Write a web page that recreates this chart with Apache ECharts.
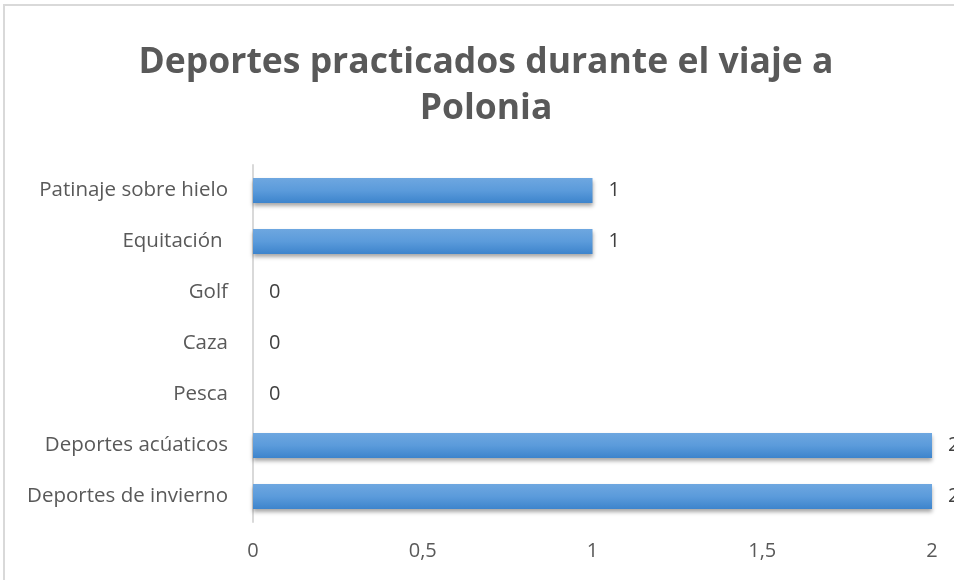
<!DOCTYPE html>
<html>
<head>
<meta charset="utf-8">
<script src="https://cdn.jsdelivr.net/npm/echarts@6/dist/echarts.min.js"></script>
<style>
  html, body { margin: 0; padding: 0; background: #fff; }
  #frame { position: absolute; left: 3px; top: 4px; width: 1000px; height: 620px; border: 2px solid #d9d9d9; box-sizing: border-box; }
  #main { position: absolute; left: 0; top: 0; width: 954px; height: 580px; }
</style>
</head>
<body>
<div id="frame"></div>
<div id="main"></div>
<script>
const categories = ['Deportes de invierno', 'Deportes acúaticos', 'Pesca', 'Caza', 'Golf', 'Equitación ', 'Patinaje sobre hielo']
const values = [2, 2, 0, 0, 0, 1, 1]
const tickLabels = ['0', '0,5', '1', '1,5', '2']

const chart = echarts.init(document.getElementById('main'))

const option = {
  animation: false,
  title: {
    text: 'Deportes practicados durante el viaje a\nPolonia',
    left: 481,
    textAlign: 'center',
    top: 35,
    textStyle: {
      fontFamily: 'Open Sans',
      fontSize: 35.5,
      fontWeight: 'bold',
      color: '#595959',
      lineHeight: 46
    }
  },
  grid: {
    left: 253,
    right: 22,
    top: 165,
    bottom: 58
  },
  xAxis: {
    type: 'value',
    min: 0,
    max: 2,
    interval: 0.5,
    splitLine: { show: false },
    axisLine: { show: false },
    axisTick: { show: false },
    axisLabel: {
      margin: 19,
      fontFamily: 'Open Sans',
      fontSize: 20,
      color: '#595959',
      formatter: function (v) { return tickLabels[Math.round(v * 2)] }
    }
  },
  yAxis: {
    type: 'category',
    data: categories,
    axisLine: { show: true, lineStyle: { color: '#d9d9d9', width: 2 } },
    axisTick: { show: false },
    axisLabel: {
      margin: 25,
      fontFamily: 'Open Sans',
      fontSize: 20.5,
      color: '#595959'
    }
  },
  series: [
    {
      type: 'bar',
      data: values,
      barWidth: 25,
      itemStyle: {
        color: new echarts.graphic.LinearGradient(0, 0, 0, 1, [
          { offset: 0, color: '#6ea7e0' },
          { offset: 0.5, color: '#5b9bdb' },
          { offset: 1, color: '#3d84cc' }
        ]),
        shadowColor: 'rgba(0, 0, 0, 0.35)',
        shadowBlur: 4,
        shadowOffsetY: 3
      },
      label: {
        show: true,
        position: 'right',
        distance: 16,
        fontFamily: 'Open Sans',
        fontSize: 20,
        color: '#404040'
      }
    }
  ]
}

chart.setOption(option)
</script>
</body>
</html>
